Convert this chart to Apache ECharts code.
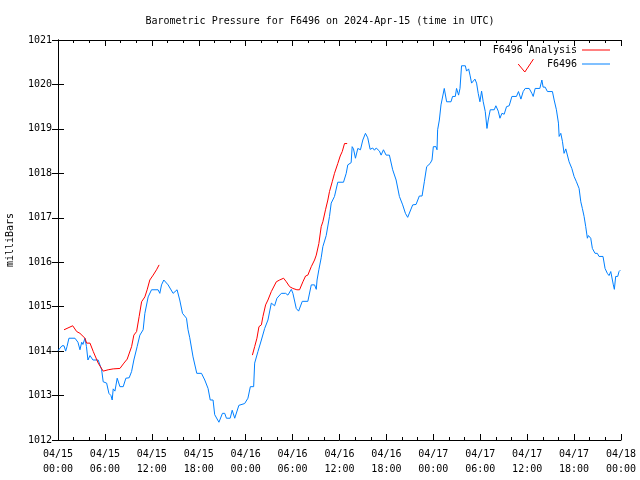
<!DOCTYPE html>
<html>
<head>
<meta charset="utf-8">
<script src="https://cdn.jsdelivr.net/npm/echarts@6/dist/echarts.min.js"></script>
<style>html,body{margin:0;padding:0;background:#fff}#c{width:640px;height:480px}</style>
</head>
<body>
<div id="c"></div>
<script>
// time in hours since 2024-04-15 00:00 UTC, pressure in millibars
const titleText = 'Barometric Pressure for F6496 on 2024-Apr-15 (time in UTC)';
const yAxisName = 'milliBars';
const seriesNames = ['F6496 Analysis', 'F6496'];
const xTickLabels = ['04/15\n00:00','04/15\n06:00','04/15\n12:00','04/15\n18:00','04/16\n00:00','04/16\n06:00','04/16\n12:00','04/16\n18:00','04/17\n00:00','04/17\n06:00','04/17\n12:00','04/17\n18:00','04/18\n00:00'];

const stationTimes = [0,0.51,0.77,0.98,1.15,1.40,2.17,2.55,2.81,3.03,3.19,3.45,3.64,3.83,4.09,4.47,5.14,5.58,5.78,6.22,6.51,6.77,6.93,7.06,7.28,7.57,7.92,8.34,8.68,9.10,9.41,9.70,10.12,10.47,10.89,11.11,11.53,11.96,12.80,13.02,13.24,13.53,14.08,14.72,15.23,15.57,15.92,16.43,16.63,16.85,17.27,17.75,18.35,18.77,19.19,19.47,19.83,20.04,20.58,21.03,21.32,21.54,22.02,22.28,22.60,22.81,23.13,23.87,24.29,24.60,25.02,25.15,25.57,26.01,26.43,26.85,27.28,27.70,28.00,28.56,28.76,29.11,29.40,29.84,30.04,30.26,30.47,30.77,31.24,31.95,32.39,32.81,33.03,33.13,33.36,33.66,33.87,34.30,34.72,34.94,35.36,35.78,36.51,36.86,37.06,37.49,37.62,37.79,38.04,38.34,38.68,38.98,39.32,39.61,39.92,40.25,40.47,40.69,41.11,41.32,41.62,41.96,42.38,42.80,43.24,43.66,44.08,44.43,44.72,44.94,45.36,45.79,46.21,46.56,46.85,47.15,47.58,47.83,48.00,48.34,48.47,48.55,48.77,48.98,49.40,49.70,50.26,50.46,50.81,50.97,51.23,51.41,51.61,52.09,52.25,52.51,52.69,52.89,53.11,53.32,53.53,53.74,53.96,54.17,54.38,54.64,54.86,55.02,55.28,55.79,56.00,56.30,56.52,56.77,57.06,57.36,57.70,58.05,58.63,58.89,59.20,59.49,59.75,60.00,60.26,60.60,60.77,61.02,61.62,61.88,62.04,62.30,62.59,63.23,63.45,63.74,64.00,64.09,64.30,64.51,64.72,64.94,65.15,65.36,65.71,66.00,66.30,66.64,66.86,67.06,67.28,67.49,67.70,67.83,68.13,68.34,68.68,68.97,69.19,69.70,69.96,70.25,70.47,70.69,70.89,71.02,71.15,71.32,71.58,71.75,71.91];
const stationValues = [1014.01,1014.12,1014.12,1014.0,1014.1,1014.29,1014.29,1014.2,1014.03,1014.2,1014.15,1014.29,1014.1,1013.8,1013.9,1013.8,1013.8,1013.58,1013.31,1013.28,1013.05,1013.0,1012.9,1013.15,1013.1,1013.39,1013.2,1013.2,1013.39,1013.4,1013.54,1013.8,1014.1,1014.36,1014.48,1014.85,1015.22,1015.38,1015.38,1015.3,1015.49,1015.6,1015.49,1015.3,1015.38,1015.15,1014.85,1014.74,1014.48,1014.3,1013.87,1013.5,1013.5,1013.35,1013.16,1012.9,1012.9,1012.57,1012.4,1012.6,1012.6,1012.49,1012.49,1012.67,1012.49,1012.49,1012.78,1012.82,1012.94,1013.2,1013.2,1013.73,1013.99,1014.25,1014.51,1014.7,1015.08,1015.02,1015.19,1015.3,1015.26,1015.3,1015.26,1015.39,1015.3,1015.3,1014.96,1014.9,1015.12,1015.12,1015.49,1015.49,1015.39,1015.6,1015.83,1016.1,1016.35,1016.6,1017.03,1017.33,1017.48,1017.8,1017.8,1018.0,1018.19,1018.24,1018.6,1018.55,1018.34,1018.56,1018.53,1018.75,1018.9,1018.8,1018.54,1018.57,1018.52,1018.57,1018.5,1018.41,1018.53,1018.41,1018.41,1018.08,1017.85,1017.48,1017.29,1017.1,1017.01,1017.01,1017.29,1017.3,1017.49,1017.49,1017.81,1018.15,1018.22,1018.3,1018.6,1018.6,1018.53,1018.98,1019.2,1019.54,1019.91,1019.61,1019.61,1019.73,1019.73,1019.91,1019.76,1019.91,1020.42,1020.42,1020.3,1020.35,1020.21,1020.03,1020.03,1020.12,1020.03,1019.8,1019.61,1019.85,1019.61,1019.39,1019.01,1019.2,1019.43,1019.43,1019.52,1019.4,1019.24,1019.35,1019.33,1019.5,1019.52,1019.73,1019.73,1019.84,1019.67,1019.84,1019.91,1019.9,1019.91,1019.8,1019.73,1019.91,1019.91,1020.1,1019.94,1019.94,1019.84,1019.84,1019.65,1019.43,1019.13,1018.83,1018.9,1018.72,1018.45,1018.55,1018.53,1018.26,1018.11,1017.93,1017.81,1017.66,1017.36,1017.21,1017.03,1016.8,1016.54,1016.6,1016.54,1016.31,1016.2,1016.2,1016.13,1016.13,1015.86,1015.75,1015.7,1015.79,1015.75,1015.49,1015.39,1015.68,1015.68,1015.79,1015.82];

const analysis1Times = [0.77,1.88,2.39,2.81,3.45,3.66,4.09,4.51,5.14,5.78,6.42,7.06,7.92,8.43,8.85,9.41,9.70,10.05,10.38,10.69,11.11,11.40,11.74,12.17,12.60,12.93];
const analysis1Values = [1014.48,1014.57,1014.44,1014.4,1014.29,1014.18,1014.18,1013.99,1013.73,1013.55,1013.58,1013.6,1013.61,1013.73,1013.82,1014.1,1014.36,1014.44,1014.78,1015.11,1015.22,1015.38,1015.6,1015.71,1015.83,1015.94];
const analysis2Times = [24.86,25.15,25.44,25.70,26.01,26.21,26.55,26.85,27.28,27.92,28.34,28.85,29.20,29.62,30.04,30.55,30.89,31.32,31.66,31.95,32.39,32.81,33.03,33.36,33.66,33.87,34.21,34.51,34.72,35.07,35.36,35.78,36.09,36.35,36.64,36.98];
const analysis2Values = [1013.91,1014.1,1014.29,1014.55,1014.59,1014.78,1015.04,1015.15,1015.34,1015.56,1015.6,1015.64,1015.56,1015.45,1015.41,1015.38,1015.38,1015.56,1015.69,1015.71,1015.9,1016.05,1016.16,1016.42,1016.8,1016.91,1017.18,1017.4,1017.59,1017.81,1018.0,1018.22,1018.39,1018.49,1018.67,1018.67];
const analysis3Times = [58.85,59.70,59.93,60.80];
const analysis3Values = [1020.46,1020.28,1020.3,1020.57];

const FONT = 'DejaVu Sans Mono';
const RED = '#ff0000';
const BLUE = '#0080ff';
const zip = (a, b) => a.map((t, i) => [t, b[i]]);

const chart = echarts.init(document.getElementById('c'), null, {renderer: 'canvas'});

const tickStyle = {show: true, inside: true, length: 6, lineStyle: {color: '#000'}};
const minorStyle = {show: true, splitNumber: 3, length: 3, lineStyle: {color: '#000'}};
const lineStyleAxis = {show: true, lineStyle: {color: '#000', width: 1}};
const legendText = {fontFamily: FONT, fontSize: 10, color: '#000'};

function redSeries(t, v) {
  return {name: seriesNames[0], type: 'line', data: zip(t, v), showSymbol: false, symbol: 'none',
          lineStyle: {color: RED, width: 1}, itemStyle: {color: RED}, z: 3};
}

chart.setOption({
  animation: false,
  backgroundColor: '#fff',
  title: {text: titleText, left: 'center', top: 11,
          textStyle: {fontFamily: FONT, fontSize: 10, fontWeight: 'normal', color: '#000'}},
  grid: {left: 58, right: 19, top: 40, bottom: 40, containLabel: false, outerBoundsMode: 'none'},
  legend: [
    {data: [seriesNames[0]], right: 30, top: 45, align: 'right', icon: 'rect', itemWidth: 28, itemHeight: 1,
     textStyle: legendText, selectedMode: false, padding: 0},
    {data: [seriesNames[1]], right: 30, top: 59, align: 'right', icon: 'rect', itemWidth: 28, itemHeight: 1,
     textStyle: legendText, selectedMode: false, padding: 0}
  ],
  xAxis: [
    {type: 'value', min: 0, max: 72, interval: 6, position: 'bottom',
     axisLine: lineStyleAxis, axisTick: tickStyle, minorTick: minorStyle, splitLine: {show: false},
     axisLabel: {fontFamily: FONT, fontSize: 10, color: '#000', margin: 7, lineHeight: 15,
                 formatter: v => xTickLabels[Math.round(v / 6)]}},
    {type: 'value', min: 0, max: 72, interval: 6, position: 'top',
     axisLine: lineStyleAxis, axisTick: tickStyle, minorTick: minorStyle, splitLine: {show: false},
     axisLabel: {show: false}}
  ],
  yAxis: [
    {type: 'value', min: 1012, max: 1021, interval: 1, position: 'left',
     name: yAxisName, nameLocation: 'middle', nameGap: 43, nameRotate: 90,
     nameTextStyle: {fontFamily: FONT, fontSize: 10, color: '#000'},
     axisLine: lineStyleAxis, axisTick: tickStyle, splitLine: {show: false},
     axisLabel: {fontFamily: FONT, fontSize: 10, color: '#000', margin: 6, formatter: v => String(v)}},
    {type: 'value', min: 1012, max: 1021, interval: 1, position: 'right',
     axisLine: lineStyleAxis, axisTick: tickStyle, splitLine: {show: false},
     axisLabel: {show: false}}
  ],
  series: [
    redSeries(analysis1Times, analysis1Values),
    redSeries(analysis2Times, analysis2Values),
    redSeries(analysis3Times, analysis3Values),
    {name: seriesNames[1], type: 'line', data: zip(stationTimes, stationValues), showSymbol: false, symbol: 'none',
     lineStyle: {color: BLUE, width: 1}, itemStyle: {color: BLUE}, z: 2}
  ]
});
</script>
</body>
</html>
